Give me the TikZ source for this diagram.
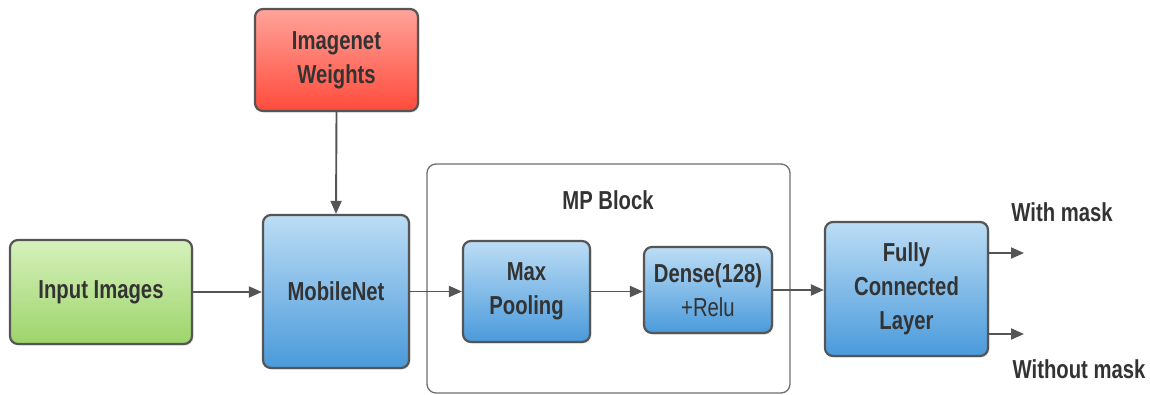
\documentclass[tikz,border=0pt]{standalone}
\usepackage{fontspec}
\setmainfont{Liberation Sans}[FakeStretch=0.78]
\usetikzlibrary{arrows.meta,shadows}
\definecolor{edge}{HTML}{555555}
\definecolor{ink}{HTML}{333333}
\definecolor{redtop}{HTML}{FFA39A}
\definecolor{redbot}{HTML}{FF4B3B}
\definecolor{greentop}{HTML}{D6F1BC}
\definecolor{greenbot}{HTML}{9DD46A}
\definecolor{bluetop}{HTML}{BCDDF5}
\definecolor{bluebot}{HTML}{4A9ADB}
\tikzset{
  x=1pt, y=-1pt,
  box/.style={draw=edge, line width=2.2pt, rounded corners=8pt,
    text=ink, align=center, inner sep=0pt,
    font=\fontsize{26}{34}\selectfont\bfseries,
    drop shadow={opacity=0.2, shadow xshift=1.5pt, shadow yshift=-1.5pt}},
  redbox/.style={box, top color=redtop, bottom color=redbot},
  greenbox/.style={box, top color=greentop, bottom color=greenbot},
  bluebox/.style={box, top color=bluetop, bottom color=bluebot},
  group/.style={draw=edge!85, line width=1.3pt, rounded corners=9pt, fill=white},
  link/.style={draw=edge, line width=1.9pt, -{Triangle[length=13pt,width=11pt]}},
  outlabel/.style={text=ink, inner sep=0pt, font=\fontsize{26}{28}\selectfont\bfseries}
}
\begin{document}
\begin{tikzpicture}
  \useasboundingbox (0,0) rectangle (1150,394);

  % container of the MP block
  \node[group, minimum width=363pt, minimum height=229pt] (mpblock) at (608.5,278.5) {};
  \node[outlabel] (mptitle) at (608,200) {MP Block};

  % boxes
  \node[redbox, minimum width=163pt, minimum height=102pt] (weights) at (336.5,60) {Imagenet\\Weights};
  \node[greenbox, minimum width=182pt, minimum height=104pt] (input) at (101,292) {Input Images};
  \node[bluebox, minimum width=146pt, minimum height=153pt] (mobile) at (336,291.5) {MobileNet};
  \node[bluebox, minimum width=127pt, minimum height=101pt] (pool) at (526.5,291.5) {Max\\Pooling};
  \node[bluebox, minimum width=128pt, minimum height=86pt] (dense) at (708,290) {Dense(128)\\{\mdseries +Relu}};
  \node[bluebox, minimum width=163pt, minimum height=134pt] (fc) at (906.5,289) {Fully\\Connected\\Layer};

  % outputs
  \coordinate (outA) at (1024,253);
  \coordinate (outB) at (1024,334);
  \node[outlabel] (withmask) at (1062,212) {With mask};
  \node[outlabel] (withoutmask) at (1079,369) {Without mask};

  % connectors
  \draw[link] (weights.south) -- (mobile.north);
  \draw[link] (input.east) -- (input.east -| mobile.west);
  \draw[link] (mobile.east) -- (mobile.east -| pool.west);
  \draw[link] (pool.east) -- (pool.east -| dense.west);
  \draw[link] (dense.east) -- (dense.east -| fc.west);
  \draw[link] (fc.east |- outA) -- (outA);
  \draw[link] (fc.east |- outB) -- (outB);
\end{tikzpicture}
\end{document}
